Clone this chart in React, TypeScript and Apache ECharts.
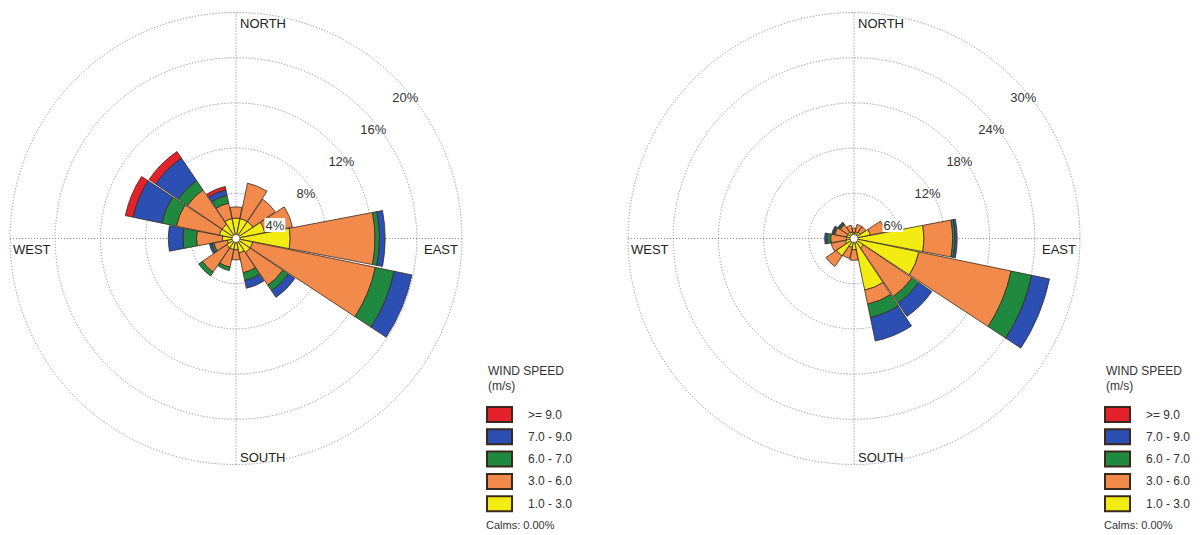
import React, { useEffect, useRef } from "react";
import * as echarts from "echarts";

// ---- data ----
const directions = ["N", "NNE", "NE", "ENE", "E", "ESE", "SE", "SSE", "S", "SSW", "SW", "WSW", "W", "WNW", "NW", "NNW"];
const speedClasses = ["1.0 - 3.0", "3.0 - 6.0", "6.0 - 7.0", "7.0 - 9.0", ">= 9.0"];
const legendOrder = [">= 9.0", "7.0 - 9.0", "6.0 - 7.0", "3.0 - 6.0", "1.0 - 3.0"];
const classColors = ["#f3ec12", "#f28a4c", "#1f8a3f", "#2c4fb3", "#e3222b"];

// left rose (% frequency per speed class)
const leftYellow = [1.8, 1.8, 1.8, 2.6, 4.8, 1.5, 1.5, 1.3, 1.0, 1.0, 1.0, 0.8, 1.2, 1.5, 1.5, 1.8];
const leftOrange = [1.0, 3.2, 2.4, 2.5, 7.5, 11.1, 3.5, 1.8, 0.9, 1.6, 2.6, 1.2, 2.3, 3.9, 3.7, 1.4];
const leftGreen = [0, 0, 0, 0, 0.4, 1.7, 0.6, 0.7, 0, 0.3, 0.4, 0.2, 1.2, 1.3, 1.0, 0.7];
const leftBlue = [0, 0, 0, 0, 0.5, 1.6, 0.7, 0.7, 0, 0, 0, 0.2, 1.3, 2.6, 2.4, 0.5];
const leftRed = [0, 0, 0, 0, 0, 0, 0, 0, 0, 0, 0, 0, 0, 0.7, 0.7, 0.3];

// right rose
const rightYellow = [0.8, 0.9, 1.0, 2.2, 9.3, 8.8, 1.5, 7.0, 1.5, 1.2, 2.8, 1.2, 1.0, 1.0, 1.0, 0.9];
const rightOrange = [0.6, 1.0, 0.9, 2.0, 3.8, 12.5, 7.8, 1.9, 1.4, 1.5, 1.7, 1.9, 2.1, 1.6, 1.2, 0.9];
const rightGreen = [0, 0, 0, 0, 0.3, 2.8, 1.1, 1.8, 0, 0, 0, 0, 0.5, 0.2, 0.2, 0];
const rightBlue = [0, 0, 0, 0, 0.3, 2.4, 2.1, 3.2, 0, 0, 0, 0, 0.3, 0.2, 0.2, 0];
const rightRed = [0, 0, 0, 0, 0, 0, 0, 0, 0, 0, 0, 0, 0, 0, 0, 0];

const leftTicks = [4, 8, 12, 16, 20];
const rightTicks = [6, 12, 18, 24, 30];
const compassLabels = ["NORTH", "EAST", "SOUTH", "WEST"];
const legendTitle = "WIND SPEED";
const legendUnit = "(m/s)";
const calmsText = "Calms: 0.00%";

// ---- layout ----
const W = 1204;
const H = 535;
const R = 226;
const CY = 238.5;
const centersX = [236, 854];
const FONT = '"Liberation Sans", Arial, sans-serif';
const GRID_COLOR = "#8d8db8";

function buildRose(
  idx: number,
  cx: number,
  layers: number[][],
  ticks: number[]
) {
  const maxV = ticks[ticks.length - 1];
  const interval = ticks[0];
  const gridPolar = idx * 2;
  const dataPolar = idx * 2 + 1;
  const dotted = { color: GRID_COLOR, width: 1, type: [1.2, 1.8] as any };

  const polar = [
    { center: [cx, CY], radius: [0, R] },
    { center: [cx, CY], radius: [0, R] },
  ];
  const angleAxis = [
    {
      polarIndex: gridPolar,
      type: "value",
      min: 0,
      max: 360,
      interval: 90,
      startAngle: 90,
      clockwise: true,
      axisLine: { show: false },
      axisTick: { show: false },
      axisLabel: { show: false },
      splitLine: { show: true, lineStyle: dotted },
    },
    {
      polarIndex: dataPolar,
      type: "category",
      data: directions,
      startAngle: 90 + 360 / directions.length / 2,
      clockwise: true,
      boundaryGap: true,
      axisLine: { show: false },
      axisTick: { show: false },
      axisLabel: { show: false },
      splitLine: { show: false },
    },
  ];
  const radiusAxis = [
    {
      polarIndex: gridPolar,
      type: "value",
      min: 0,
      max: maxV,
      interval,
      axisLine: { show: false },
      axisTick: { show: false },
      axisLabel: { show: false },
      splitLine: { show: true, lineStyle: dotted },
    },
    {
      polarIndex: dataPolar,
      type: "value",
      min: 0,
      max: maxV,
      interval,
      axisLine: { show: false },
      axisTick: { show: false },
      axisLabel: { show: false },
      splitLine: { show: false },
    },
  ];
  const series = layers.map((arr, i) => ({
    type: "bar",
    name: speedClasses[i],
    coordinateSystem: "polar",
    polarIndex: dataPolar,
    stack: "rose" + idx,
    barCategoryGap: "4%",
    silent: true,
    data: arr.map((v) => (v > 0 ? v : null)),
    itemStyle: { color: classColors[i], borderColor: "#3a2a1e", borderWidth: 0.8 },
  }));

  const graphics: any[] = [];
  // radial percentage labels along the 45 degree direction
  ticks.forEach((t, k) => {
    const r = (t / maxV) * R;
    const px = cx + r * Math.SQRT1_2 - 3.5;
    const py = CY - r * Math.SQRT1_2 + 18.5;
    graphics.push({
      type: "text",
      x: px,
      y: py,
      z: 100,
      style: {
        text: t + "%",
        fill: "#333",
        fontSize: 13,
        fontFamily: FONT,
        align: "left",
        verticalAlign: "middle",
        backgroundColor: k === 0 ? "#fff" : undefined,
        padding: k === 0 ? [1, 1, 0, 1] : 0,
      },
    });
  });
  // compass labels
  const compassPos = [
    { x: cx + 4, y: CY - R + 10.5, align: "left" },
    { x: cx + R - 4, y: CY + 11, align: "right" },
    { x: cx + 4, y: CY + R - 7, align: "left" },
    { x: cx - R + 3, y: CY + 11, align: "left" },
  ];
  compassLabels.forEach((lab, i) => {
    graphics.push({
      type: "text",
      x: compassPos[i].x,
      y: compassPos[i].y,
      z: 100,
      style: {
        text: lab,
        fill: "#222",
        fontSize: 13,
        fontFamily: FONT,
        align: compassPos[i].align,
        verticalAlign: "middle",
      },
    });
  });
  // center hole
  graphics.push({
    type: "circle",
    z: 100,
    shape: { cx, cy: CY, r: 4 },
    style: { fill: "#fff", stroke: "#444", lineWidth: 0.8 },
  });
  // legend texts
  const lx = cx + 250;
  graphics.push({
    type: "text",
    x: lx + 2,
    y: 371,
    z: 100,
    style: { text: legendTitle, fill: "#333", fontSize: 12, fontFamily: FONT, align: "left", verticalAlign: "middle" },
  });
  graphics.push({
    type: "text",
    x: lx + 2,
    y: 386,
    z: 100,
    style: { text: legendUnit, fill: "#333", fontSize: 12, fontFamily: FONT, align: "left", verticalAlign: "middle" },
  });
  graphics.push({
    type: "text",
    x: lx,
    y: 525,
    z: 100,
    style: { text: calmsText, fill: "#333", fontSize: 11, fontFamily: FONT, align: "left", verticalAlign: "middle" },
  });

  const legend = {
    orient: "vertical",
    left: lx,
    top: 406,
    padding: 0,
    itemWidth: 25,
    itemHeight: 15,
    itemGap: 5.3,
    icon: "rect",
    selectedMode: false,
    data: legendOrder,
    textStyle: { fontSize: 12, color: "#333", fontFamily: FONT, lineHeight: 15, padding: [0, 0, 0, 11] },
  };

  return { polar, angleAxis, radiusAxis, series, graphics, legend };
}

export default function App() {
  const ref = useRef<HTMLDivElement>(null);
  useEffect(() => {
    if (!ref.current) return;
    const chart = echarts.init(ref.current, undefined, { renderer: "svg" });
    const left = buildRose(0, centersX[0], [leftYellow, leftOrange, leftGreen, leftBlue, leftRed], leftTicks);
    const right = buildRose(1, centersX[1], [rightYellow, rightOrange, rightGreen, rightBlue, rightRed], rightTicks);
    chart.setOption({
      animation: false,
      backgroundColor: "#fff",
      polar: [...left.polar, ...right.polar],
      angleAxis: [...left.angleAxis, ...right.angleAxis],
      radiusAxis: [...left.radiusAxis, ...right.radiusAxis],
      legend: [left.legend, right.legend],
      series: [...left.series, ...right.series],
      graphic: { elements: [...left.graphics, ...right.graphics] },
    } as any);
    return () => chart.dispose();
  }, []);
  return <div ref={ref} style={{ position: "fixed", left: 0, top: 0, width: W, height: H }} />;
}
